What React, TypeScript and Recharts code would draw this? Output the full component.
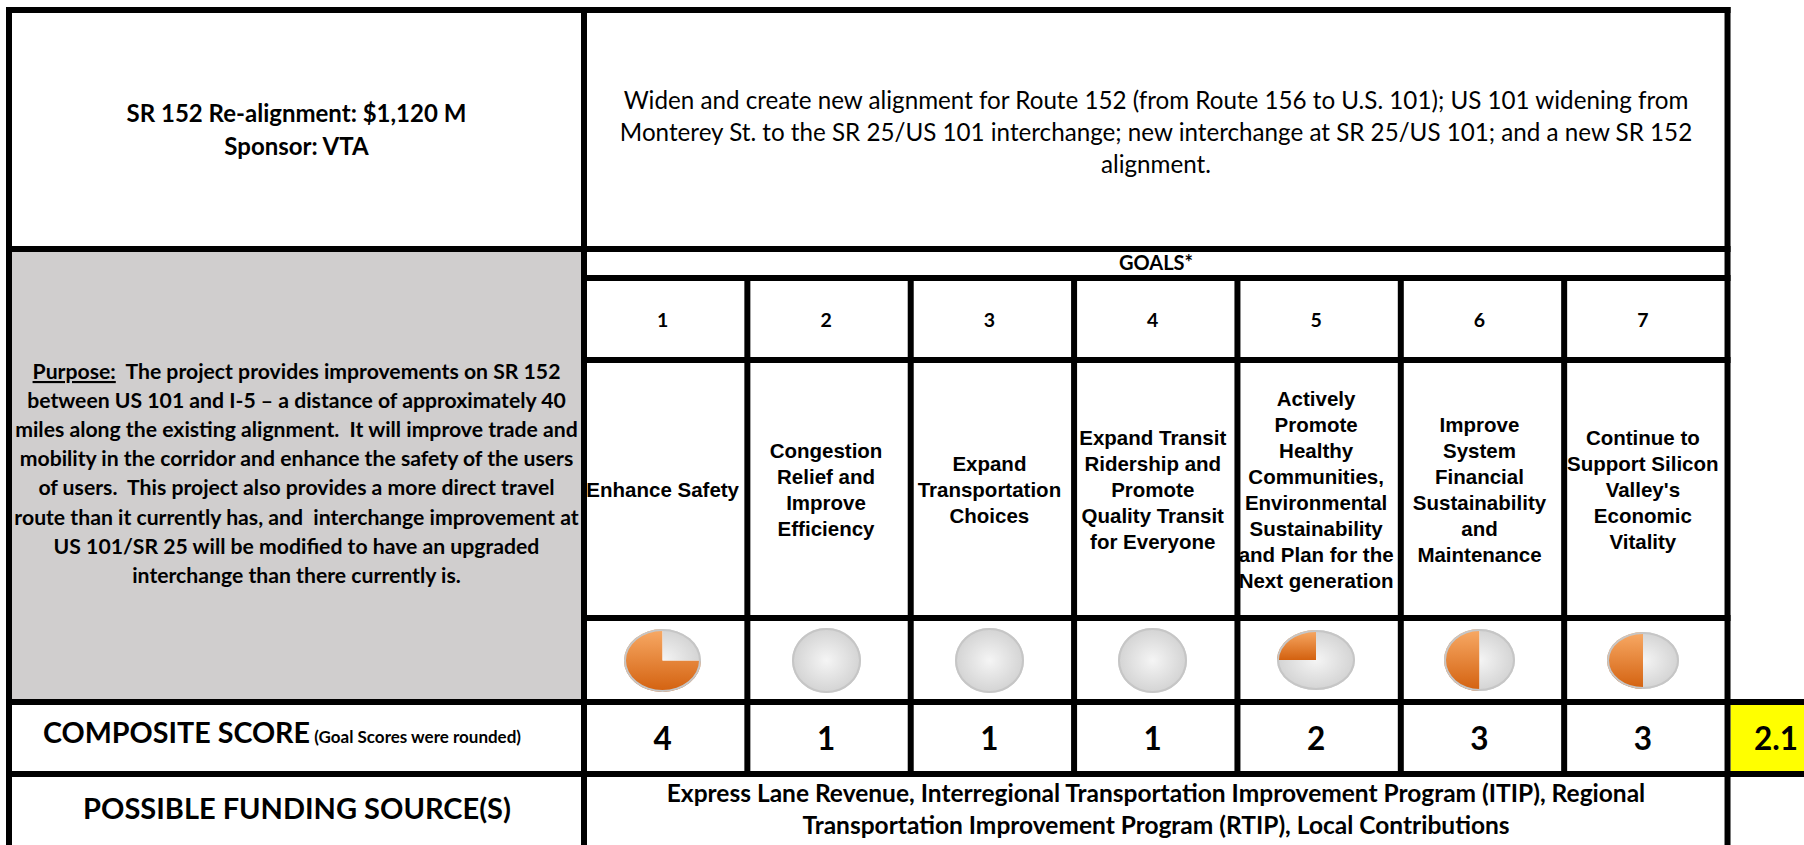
import React from 'react';
import { PieChart, Pie, Cell } from 'recharts';

// ---------- data ----------
const titleLines = ['SR 152 Re-alignment: $1,120 M', 'Sponsor: VTA'];
const descriptionLines = [
  'Widen and create new alignment for Route 152 (from Route 156 to U.S. 101); US 101 widening from',
  'Monterey St. to the SR 25/US 101 interchange; new interchange at SR 25/US 101; and a new SR 152',
  'alignment.',
];
const purposeLabel = 'Purpose:';
const purposeLines = [
  '  The project provides improvements on SR 152',
  'between US 101 and I-5 \u2013 a distance of approximately 40',
  'miles along the existing alignment.  It will improve trade and',
  'mobility in the corridor and enhance the safety of the users',
  'of users.  This project also provides a more direct travel',
  'route than it currently has, and  interchange improvement at',
  'US 101/SR 25 will be modified to have an upgraded',
  'interchange than there currently is.',
];
const goalsHeader = 'GOALS*';
const goalNumbers = ['1', '2', '3', '4', '5', '6', '7'];
const goalTitles = [
  ['Enhance Safety'],
  ['Congestion', 'Relief and', 'Improve', 'Efficiency'],
  ['Expand', 'Transportation', 'Choices'],
  ['Expand Transit', 'Ridership and', 'Promote', 'Quality Transit', 'for Everyone'],
  ['Actively', 'Promote', 'Healthy', 'Communities,', 'Environmental', 'Sustainability', 'and Plan for the', 'Next generation'],
  ['Improve', 'System', 'Financial', 'Sustainability', 'and', 'Maintenance'],
  ['Continue to', 'Support Silicon', "Valley's", 'Economic', 'Vitality'],
];
const goalScores = [4, 1, 1, 1, 2, 3, 3];
const achievedQuarters = [3, 0, 0, 0, 1, 2, 2];
const totalQuarters = 4;
const compositeScore = '2.1';
const compositeLabel = 'COMPOSITE SCORE';
const compositeNote = '(Goal Scores were rounded)';
const fundingLabel = 'POSSIBLE FUNDING SOURCE(S)';
const fundingLines = [
  'Express Lane Revenue, Interregional Transportation Improvement Program (ITIP), Regional',
  'Transportation Improvement Program (RTIP), Local Contributions',
];

// ---------- layout ----------
const W = 1804;
const H = 845;
const T = 6;
const COL0 = 581;
const PITCH = 163.36;
const colLine = (i: number) => COL0 + i * PITCH;
const colCenter = (i: number) => colLine(i) + T / 2 + (PITCH - T) / 2;
const PIE_SIZE: [number, number][] = [
  [77, 63], [69, 65], [69, 65], [69, 65], [78, 60], [71, 62], [72, 57],
];
const PIE_CY = 660;
const BASE = 64;

const CAL = 'Lato, "Open Sans", sans-serif';
const ARIAL = '"Liberation Sans", Arial, sans-serif';

function HarveyBall({ index }: { index: number }) {
  const [w, h] = PIE_SIZE[index];
  const achieved = achievedQuarters[index];
  const data = [
    { name: 'Achieved', value: achieved, kind: 'a' },
    { name: 'Remaining', value: totalQuarters - achieved, kind: 'r' },
  ].filter((d) => d.value > 0);
  return (
    <div
      style={{
        position: 'absolute',
        left: colCenter(index) - w / 2,
        top: PIE_CY - h / 2,
        width: w,
        height: h,
      }}
    >
      <div
        style={{
          width: BASE,
          height: BASE,
          transform: `scale(${w / BASE}, ${h / BASE})`,
          transformOrigin: '0 0',
        }}
      >
        <PieChart width={BASE} height={BASE} margin={{ top: 0, right: 0, bottom: 0, left: 0 }}>
          <Pie
            data={data}
            dataKey="value"
            nameKey="name"
            cx="50%"
            cy="50%"
            innerRadius={0}
            outerRadius={BASE / 2}
            startAngle={90}
            endAngle={450}
            stroke="none"
            isAnimationActive={false}
          >
            {data.map((d) => (
              <Cell key={d.name} fill={d.kind === 'a' ? 'url(#hbOrange)' : 'url(#hbGrey)'} />
            ))}
          </Pie>
        </PieChart>
      </div>
      <div
        style={{
          position: 'absolute',
          left: 0,
          top: 0,
          width: w,
          height: h,
          borderRadius: '50%',
          border: '2px solid #C6C6C6',
          boxSizing: 'border-box',
        }}
      />
    </div>
  );
}

function HLine({ x1, x2, y }: { x1: number; x2: number; y: number }) {
  return <rect x={x1} y={y} width={x2 - x1} height={T} fill="#000" />;
}
function VLine({ x, y1, y2 }: { x: number; y1: number; y2: number }) {
  return <rect x={x} y={y1} width={T} height={y2 - y1} fill="#000" />;
}

export default function App() {
  const right = colLine(7);
  return (
    <div
      style={{
        position: 'absolute',
        left: 0,
        top: 0,
        width: W,
        height: H,
        overflow: 'hidden',
        background: '#fff',
      }}
    >
      <svg width={0} height={0} style={{ position: 'absolute' }}>
        <defs>
          <linearGradient id="hbOrange" x1="0" y1="0" x2="0" y2="1">
            <stop offset="0%" stopColor="#F8AA66" />
            <stop offset="100%" stopColor="#D3610F" />
          </linearGradient>
          <radialGradient id="hbGrey" gradientUnits="userSpaceOnUse" cx={BASE / 2} cy={BASE / 2} r={BASE / 2}>
            <stop offset="0%" stopColor="#F5F5F5" />
            <stop offset="100%" stopColor="#D3D3D3" />
          </radialGradient>
        </defs>
      </svg>

      <svg width={W} height={H} style={{ position: 'absolute', left: 0, top: 0 }}>
        {/* backgrounds */}
        <rect x={12} y={252} width={COL0 - 12} height={699 - 252} fill="#D0CECE" />
        <rect x={right + T} y={705} width={W} height={771 - 705} fill="#FFFF00" />

        {/* header texts */}
        <g fontFamily={CAL} fontWeight={700} fontSize={24} textAnchor="middle" fill="#000">
          <text x={296.5} y={122}>{titleLines[0]}</text>
          <text x={296.5} y={155}>{titleLines[1]}</text>
        </g>
        <g fontFamily={CAL} fontWeight={400} fontSize={24.2} textAnchor="middle" fill="#000">
          {descriptionLines.map((l, i) => (
            <text key={i} x={1156} y={108.5 + i * 32}>{l}</text>
          ))}
        </g>

        {/* purpose */}
        <g fontFamily={CAL} fontWeight={700} fontSize={21.2} textAnchor="middle" fill="#000">
          {purposeLines.map((l, i) =>
            i === 0 ? (
              <text key={i} x={296.5} y={379} xmlSpace="preserve">
                <tspan textDecoration="underline">{purposeLabel}</tspan>
                <tspan>{l}</tspan>
              </text>
            ) : (
              <text key={i} x={296.5} y={379 + i * 29.1} xmlSpace="preserve">{l}</text>
            )
          )}
        </g>

        {/* goals header */}
        <text x={1156} y={270} fontFamily={CAL} fontWeight={700} fontSize={20} textAnchor="middle">{goalsHeader}</text>
        {goalNumbers.map((n, i) => (
          <text key={n} x={colCenter(i)} y={327} fontFamily={CAL} fontWeight={700} fontSize={19.5} textAnchor="middle">{n}</text>
        ))}
        {goalTitles.map((lines, i) => (
          <g key={i} fontFamily={ARIAL} fontWeight={700} fontSize={20.5} textAnchor="middle">
            {lines.map((l, j) => (
              <text key={j} x={colCenter(i)} y={490 + (j - (lines.length - 1) / 2) * 26 + 7}>{l}</text>
            ))}
          </g>
        ))}

        {/* scores */}
        <text x={43} y={743} fontFamily={CAL} fontWeight={700} textAnchor="start" xmlSpace="preserve">
          <tspan fontSize={28.7}>{compositeLabel}</tspan>
          <tspan fontSize={17}>{' ' + compositeNote}</tspan>
        </text>
        {goalScores.map((s, i) => (
          <text key={i} x={colCenter(i)} y={750} fontFamily={CAL} fontWeight={700} fontSize={31.5} textAnchor="middle">{s}</text>
        ))}
        <text x={1776} y={750} fontFamily={CAL} fontWeight={700} fontSize={31.5} textAnchor="middle">{compositeScore}</text>

        {/* funding */}
        <text x={297} y={819} fontFamily={CAL} fontWeight={700} fontSize={29} textAnchor="middle">{fundingLabel}</text>
        <g fontFamily={CAL} fontWeight={700} fontSize={24.5} textAnchor="middle">
          {fundingLines.map((l, i) => (
            <text key={i} x={1156} y={802 + i * 32}>{l}</text>
          ))}
        </g>

        {/* grid lines */}
        <HLine x1={6} x2={right + T} y={7} />
        <HLine x1={6} x2={right + T} y={246} />
        <HLine x1={COL0} x2={right + T} y={275} />
        <HLine x1={COL0} x2={right + T} y={357} />
        <HLine x1={COL0} x2={right + T} y={615} />
        <HLine x1={6} x2={W} y={699} />
        <HLine x1={6} x2={W} y={771} />
        <VLine x={6} y1={7} y2={H} />
        <VLine x={COL0} y1={7} y2={H} />
        <VLine x={right} y1={7} y2={H} />
        {[1, 2, 3, 4, 5, 6].map((i) => (
          <VLine key={i} x={colLine(i)} y1={275} y2={777} />
        ))}
      </svg>

      {goalScores.map((_, i) => (
        <HarveyBall key={i} index={i} />
      ))}
    </div>
  );
}
